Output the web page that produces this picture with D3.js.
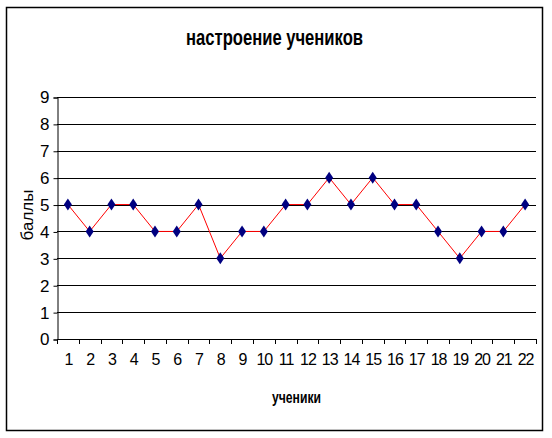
<!DOCTYPE html>
<html><head><meta charset="utf-8">
<script src="https://cdn.jsdelivr.net/npm/d3@7"></script>
<style>body{margin:0;background:#fff;} text{font-family:"Liberation Sans",Arial,sans-serif;}</style>
</head><body>
<svg id="c" width="552" height="438"></svg>
<script>
const categories = ["1","2","3","4","5","6","7","8","9","10","11","12","13","14","15","16","17","18","19","20","21","22"];
const values = [5,4,5,5,4,4,5,3,4,4,5,5,6,5,6,5,5,4,3,4,4,5];
const yTicks = [0,1,2,3,4,5,6,7,8,9];
const title = "настроение учеников";
const xTitle = "ученики";
const yTitle = "баллы";

const svg = d3.select("#c");
svg.append("rect").attr("x",6.5).attr("y",7.5).attr("width",536).attr("height",423)
  .attr("fill","#fff").attr("stroke","#000").attr("stroke-width",1.5);

const m = {l:57, r:536, t:97, b:339};
const x = d3.scaleBand().domain(categories).range([m.l, m.r]);
const y = d3.scaleLinear().domain([0,9]).range([m.b, m.t]);

// gridlines
svg.append("g").selectAll("line").data(yTicks.filter(d=>d>0)).join("line")
  .attr("x1",m.l).attr("x2",m.r).attr("y1",d=>Math.round(y(d))+0.5).attr("y2",d=>Math.round(y(d))+0.5)
  .attr("stroke","#000").attr("stroke-width",1);

// y axis
const ya = svg.append("g").attr("transform",`translate(${m.l+0.5},0.5)`)
  .call(d3.axisLeft(y).tickValues(yTicks).tickSize(4).tickPadding(4).tickFormat(d3.format("d")));
ya.select(".domain").attr("stroke","#000");
ya.selectAll("text").attr("font-size",17).attr("fill","#000").attr("font-family","Liberation Sans, Arial");

// x axis
const xa = svg.append("g").attr("transform",`translate(0.5,${m.b+0.5})`)
  .call(d3.axisBottom(x).tickSize(0).tickPadding(14));
xa.select(".domain").attr("stroke","#000").attr("d",`M${m.l},0H${m.r}`);
xa.selectAll("text").attr("font-size",16).attr("letter-spacing","-1px").attr("fill","#000").attr("font-family","Liberation Sans, Arial");
// boundary ticks
const bounds = categories.map(c=>x(c)).concat([m.r]);
svg.append("g").selectAll("line").data(bounds).join("line")
  .attr("x1",d=>Math.round(d)+0.5).attr("x2",d=>Math.round(d)+0.5)
  .attr("y1",m.b).attr("y2",m.b+5).attr("stroke","#000");

// line
const cx = d => x(d) + x.bandwidth()/2;
const line = d3.line().x((d,i)=>cx(categories[i])).y(d=>y(d));
svg.append("path").datum(values).attr("d",line).attr("fill","none").attr("stroke","#ff0000").attr("stroke-width",1);

// markers
svg.append("g").selectAll("path").data(values).join("path")
  .attr("transform",(d,i)=>`translate(${cx(categories[i])},${y(d)})`)
  .attr("d","M0,-6L4,0L0,6L-4,0Z").attr("fill","#000080");

// titles
svg.append("text").attr("x",186).attr("y",45)
  .attr("font-size",22).attr("font-weight","bold").attr("textLength",177).attr("lengthAdjust","spacingAndGlyphs").text(title);
svg.append("text").attr("x",272).attr("y",403)
  .attr("font-size",17).attr("font-weight","bold").attr("textLength",49).attr("lengthAdjust","spacingAndGlyphs").text(xTitle);
svg.append("text").attr("transform","translate(33,215) rotate(-90)").attr("text-anchor","middle")
  .attr("font-size",17).text(yTitle);
</script>
</body></html>
